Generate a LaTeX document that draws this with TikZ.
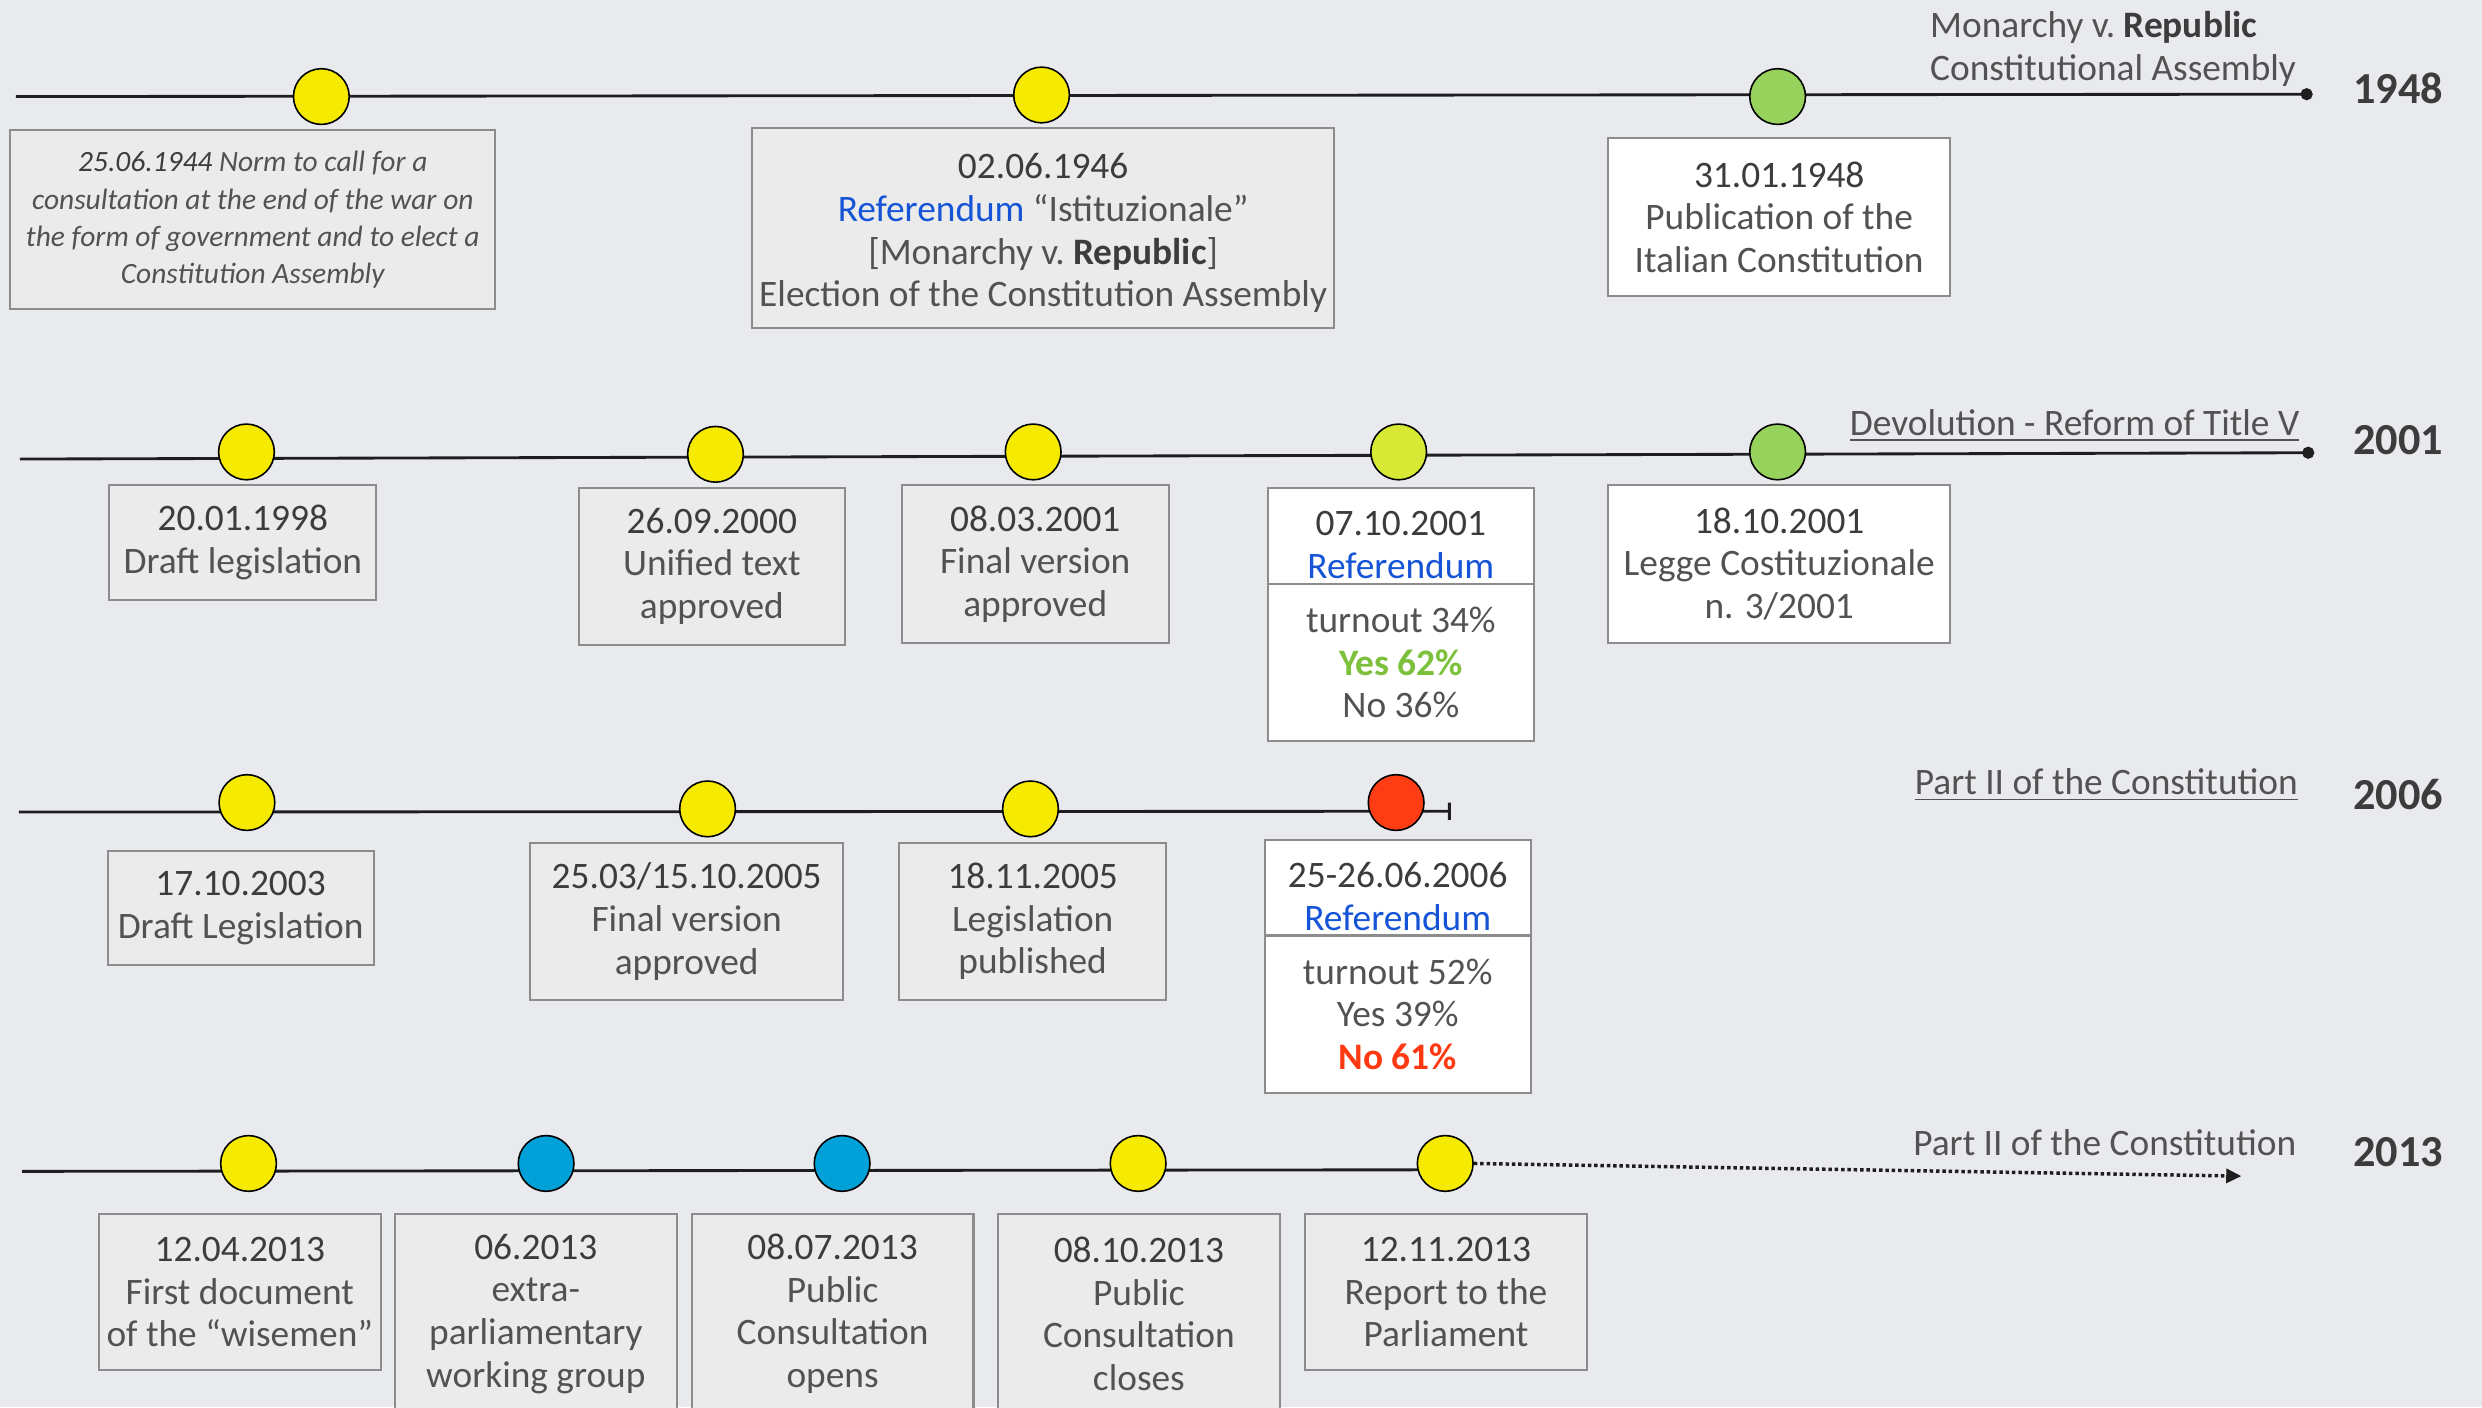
\documentclass[tikz,border=0pt]{standalone}
\usepackage{fontspec}
\setmainfont{Carlito}
\usetikzlibrary{arrows.meta}
\definecolor{bgc}{RGB}{233,234,238}
\definecolor{linec}{RGB}{30,30,30}
\definecolor{evyel}{RGB}{245,234,0}
\definecolor{evgrn}{RGB}{151,211,92}
\definecolor{evlime}{RGB}{215,233,53}
\definecolor{evred}{RGB}{255,61,20}
\definecolor{evblue}{RGB}{0,160,216}
\definecolor{boxfill}{RGB}{235,235,235}
\definecolor{boxline}{RGB}{140,140,140}
\definecolor{txtc}{RGB}{82,82,82}
\definecolor{datec}{RGB}{60,60,60}
\definecolor{refblue}{RGB}{21,84,214}
\definecolor{yesgrn}{RGB}{124,192,60}
\definecolor{nored}{RGB}{255,58,18}
\newcommand\dte[1]{{\color{datec}#1}}
\newcommand\toppad{\rule{0pt}{13.5pt}}
\begin{document}
\begin{tikzpicture}[x=0.5pt,y=-0.5pt,
  tl/.style={draw=linec,line width=0.9pt},
  ev/.style={circle,draw=black,line width=0.5pt,minimum size=17.6pt,inner sep=0pt},
  evy/.style={ev,fill=evyel},
  evg/.style={ev,fill=evgrn},
  evl/.style={ev,fill=evlime},
  evr/.style={ev,fill=evred},
  evb/.style={ev,fill=evblue},
  sz/.style 2 args={minimum width=#1*0.5pt,minimum height=#2*0.5pt},
  bx/.style={draw=boxline,line width=0.65pt,fill=boxfill,align=center,inner sep=0pt,text=txtc,font=\fontsize{11.8}{13.5}\selectfont},
  wbx/.style={bx,fill=white},
  lab/.style={text=txtc,font=\fontsize{11.8}{13.5}\selectfont,inner sep=0pt},
  yr/.style={text=datec,font=\fontsize{14}{16}\selectfont\bfseries,inner sep=0pt}
]
\useasboundingbox (0,0) rectangle (1568,889);
\fill[bgc] (0,0) rectangle (1568,889);
\clip (0,0) rectangle (1568,889);

% ---------------- 1948 ----------------
\coordinate (s1) at (10,61);
\coordinate (e1) at (1461,59.5);
\draw[tl,-{Circle[length=3.8pt]}] (s1) -- (e1);
\node[evy] (c11) at (203,61) {};
\node[evy] (c12) at (658,60) {};
\node[evg] (c13) at (1123,61) {};
\node[bx,sz={306.6}{113},font=\fontsize{9.3}{11.75}\selectfont\itshape] (b11) at (159.7,138.9)
  {\dte{25.06.1944} Norm to call for a\\consultation at the end of the war on\\the form of government and to elect a\\Constitution Assembly};
\node[bx,sz={368}{126.4}] (b12) at (659,143.8)
  {\rule{0pt}{11.5pt}\dte{02.06.1946}\\{\color{refblue}Referendum} “Istituzionale”\\{[}Monarchy v.~{\color{datec}\bfseries Republic}{]}\\Election of the Constitution Assembly};
\node[wbx,sz={216}{99.6}] (b13) at (1124,137.2)
  {\dte{31.01.1948}\\Publication of the\\Italian Constitution};
\node[lab,anchor=west,align=left] (m1) at (1219,31)
  {Monarchy v.~{\color{datec}\bfseries Republic}\\Constitutional Assembly};
\node[yr] (y1) at (1515,56) {1948};

% ---------------- 2001 ----------------
\coordinate (s2) at (12.6,290);
\coordinate (e2) at (1462,286);
\draw[tl,-{Circle[length=3.8pt]}] (s2) -- (e2);
\node[evy] (c21) at (155.7,285.5) {};
\node[evy] (c22) at (452,287) {};
\node[evy] (c23) at (652.7,285.5) {};
\node[evl] (c24) at (883.6,285.5) {};
\node[evg] (c25) at (1123,285.5) {};
\node[bx,sz={168.7}{72.5}] (b21) at (153.4,342.8) {\dte{20.01.1998}\\Draft legislation};
\node[bx,sz={168.2}{99.5}] (b22) at (449.7,357.8) {\dte{26.09.2000}\\Unified text\\approved};
\node[bx,sz={168.7}{99.5}] (b23) at (654,356.3) {\dte{08.03.2001}\\Final version\\approved};
\node[wbx,sz={168}{61}] (b24a) at (885,338.5) {\toppad\dte{07.10.2001}\\{\color{refblue}Referendum}};
\node[wbx,sz={168}{99}] (b24b) at (885,418.5) {turnout 34\%\\{\color{yesgrn}\bfseries Yes 62\%}\\No 36\%};
\node[wbx,sz={216}{99.5}] (b25) at (1124,356.3) {\dte{18.10.2001}\\Legge Costituzionale\\n. 3/2001};
\node[lab,anchor=base east] (m2) at (1453,275) {\underline{Devolution - Reform of Title V}};
\node[yr] (y2) at (1515,278) {2001};

% ---------------- 2006 ----------------
\coordinate (s3) at (12,513);
\coordinate (e3) at (916.5,512.5);
\draw[tl,-{Bar[width=5.5pt]}] (s3) -- (e3);
\node[evy] (c31) at (156,507) {};
\node[evy] (c32) at (447,511) {};
\node[evy] (c33) at (651,511) {};
\node[evr] (c34) at (882,507) {};
\node[bx,sz={168}{72}] (b31) at (152,573.6) {\dte{17.10.2003}\\Draft Legislation};
\node[bx,sz={197.5}{99.2}] (b32) at (433.8,582.1) {\dte{25.03/15.10.2005}\\Final version\\approved};
\node[bx,sz={168.7}{99.2}] (b33) at (652.4,582.1) {\dte{18.11.2005}\\Legislation\\published};
\node[wbx,sz={168}{60.4}] (b34a) at (883,560.8) {\toppad\dte{25-26.06.2006}\\{\color{refblue}Referendum}};
\node[wbx,sz={168}{99.5}] (b34b) at (883,640.8) {turnout 52\%\\Yes 39\%\\{\color{nored}\bfseries No 61\%}};
\node[lab,anchor=base east] (m3) at (1452,502) {\underline{Part II of the Constitution}};
\node[yr] (y3) at (1515,502) {2006};

% ---------------- 2013 ----------------
\coordinate (s4) at (14,740);
\coordinate (k4) at (913,739);
\coordinate (a4) at (1416,743);
\draw[tl] (s4) -- (k4);
\node[evy] (c41) at (157,735) {};
\node[evb] (c42) at (345,735) {};
\node[evb] (c43) at (532,735) {};
\node[evy] (c44) at (719,735) {};
\node[evy] (c45) at (913,735) {};
\draw[draw=linec,line width=1.1pt,dash pattern=on 1.1pt off 0.9pt,-{Triangle[length=4.8pt,width=4.4pt]}] (c45.east) -- (a4);
\node[bx,sz={178}{98.5}] (b41) at (151.5,816.3) {\dte{12.04.2013}\\First document\\of the “wisemen”};
\node[bx,sz={178}{126}] (b42) at (338.5,830) {\dte{06.2013}\\extra-\\parliamentary\\working group};
\node[bx,sz={178}{126}] (b43) at (526,830) {\dte{08.07.2013}\\Public\\Consultation\\opens};
\node[bx,sz={178}{126}] (b44) at (719.5,830) {\dte{08.10.2013}\\Public\\Consultation\\closes};
\node[bx,sz={178}{98.5}] (b45) at (913.5,816.3) {\dte{12.11.2013}\\Report to the\\Parliament};
\node[lab,anchor=base east] (m4) at (1451,730) {Part II of the Constitution};
\node[yr] (y4) at (1515,728) {2013};
\end{tikzpicture}
\end{document}
